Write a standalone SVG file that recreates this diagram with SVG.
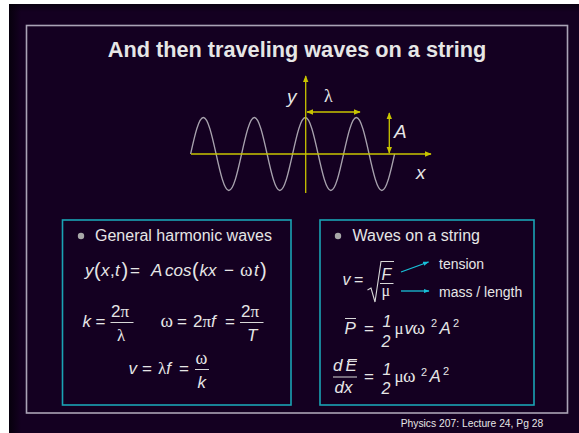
<svg xmlns="http://www.w3.org/2000/svg" width="579" height="433" viewBox="0 0 579 433">
<defs>
<linearGradient id="edgeL" x1="0" y1="0" x2="1" y2="0">
<stop offset="0" stop-color="#05000a" stop-opacity="0.9"/>
<stop offset="1" stop-color="#05000a" stop-opacity="0"/>
</linearGradient>
<linearGradient id="edgeT" x1="0" y1="0" x2="0" y2="1">
<stop offset="0" stop-color="#05000a" stop-opacity="0.7"/>
<stop offset="1" stop-color="#05000a" stop-opacity="0"/>
</linearGradient>
<marker id="ya" viewBox="0 0 10 10" refX="9" refY="5" markerWidth="7" markerHeight="7" markerUnits="userSpaceOnUse" orient="auto-start-reverse">
<path d="M0,1 L10,5 L0,9 Z" fill="#c8c400"/>
</marker>
<marker id="ca" viewBox="0 0 10 10" refX="9" refY="5" markerWidth="6" markerHeight="6" markerUnits="userSpaceOnUse" orient="auto">
<path d="M0,1.5 L10,5 L0,8.5 Z" fill="#18c0d8"/>
</marker>
</defs>
<style>
.t{font-family:"Liberation Sans",Arial,sans-serif;fill:#e6e6e6}
.i{font-style:italic}
.g{font-family:"Liberation Serif","Times New Roman",serif;font-style:normal}
.f{font-size:17px}
.box{fill:none;stroke:#1aa3b4;stroke-width:1.6}
.yl{stroke:#c8c400;stroke-width:1.3;fill:none}
.fl{stroke:#d8d8d8;stroke-width:1}
</style>
<rect x="0" y="0" width="579" height="433" fill="#ffffff"/>
<rect x="9" y="4" width="570" height="429" fill="#140021"/>
<rect x="9" y="4" width="12" height="429" fill="url(#edgeL)"/>
<rect x="9" y="4" width="570" height="8" fill="url(#edgeT)"/>
<rect x="26.5" y="25.5" width="541" height="387.5" fill="none" stroke="#aaa3b6" stroke-width="1.6"/>

<g id="title">
<text class="t" x="297" y="57" font-size="21.7" font-weight="bold" text-anchor="middle" fill="#f2f2f2">And then traveling waves on a string</text>
</g>

<g id="wave-plot">
<path d="M190.6,154 c4.158,-18.7 8.136,-36.5 12.75,-36.5 s8.592,17.8 12.75,36.5 s8.136,36.5 12.75,36.5 s8.592,-17.8 12.75,-36.5 s8.136,-36.5 12.75,-36.5 s8.592,17.8 12.75,36.5 s8.136,36.5 12.75,36.5 s8.592,-17.8 12.75,-36.5 s8.136,-36.5 12.75,-36.5 s8.592,17.8 12.75,36.5 s8.136,36.5 12.75,36.5 s8.592,-17.8 12.75,-36.5 s8.136,-36.5 12.75,-36.5 s8.592,17.8 12.75,36.5 s8.136,36.5 12.75,36.5 s8.592,-17.8 12.75,-36.5" fill="none" stroke="#a8a2ae" stroke-width="1.3"/>
<text class="t i" x="287" y="103" font-size="19">y</text>
<text class="t g" x="324" y="102" font-size="18">λ</text>
<text class="t i" x="394" y="138" font-size="19">A</text>
<text class="t i" x="416" y="179" font-size="19">x</text>
</g>

<g id="connectors">
<line class="yl" x1="191" y1="154" x2="431" y2="154" marker-end="url(#ya)"/>
<line class="yl" x1="305.7" y1="193" x2="305.7" y2="76" marker-end="url(#ya)"/>
<line class="yl" x1="307" y1="112" x2="360" y2="112" marker-start="url(#ya)" marker-end="url(#ya)"/>
<line class="yl" x1="389.3" y1="113" x2="389.3" y2="153" marker-start="url(#ya)" marker-end="url(#ya)"/>
<line x1="401" y1="272" x2="428.5" y2="262" stroke="#18c0d8" stroke-width="1.3" marker-end="url(#ca)"/>
<line x1="401" y1="291" x2="429" y2="291" stroke="#18c0d8" stroke-width="1.3" marker-end="url(#ca)"/>
</g>

<g id="harmonic-box">
<rect class="box" x="62.5" y="220" width="228.5" height="185"/>
<circle cx="81" cy="236" r="3.2" fill="#a8a8a8"/>
<text class="t" x="95" y="240.5" font-size="16">General harmonic waves</text>
<g class="f">
<text class="t i" x="85" y="276">y</text>
<text class="t" x="94" y="277" font-size="20">(</text>
<text class="t i" x="101" y="276">x</text>
<text class="t" x="110" y="276">,</text>
<text class="t i" x="115" y="276">t</text>
<text class="t" x="121.5" y="277" font-size="20">)</text>
<text class="t" x="130" y="276">=</text>
<text class="t i" x="151" y="276">A</text>
<text class="t i" x="165" y="276">cos</text>
<text class="t" x="192" y="277" font-size="20">(</text>
<text class="t i" x="199.5" y="276">kx</text>
<text class="t" x="224" y="276">−</text>
<text class="t g" x="240" y="276" font-size="19">ω</text>
<text class="t i" x="254" y="276">t</text>
<text class="t" x="260" y="277" font-size="20">)</text>
</g>
<g class="f">
<text class="t i" x="82.5" y="327">k</text>
<text class="t" x="95.5" y="327">=</text>
<text class="t" x="111" y="316.5">2<tspan class="g">π</tspan></text>
<line class="fl" x1="110.5" y1="322.5" x2="133.5" y2="322.5"/>
<text class="t g" x="117" y="340.5">λ</text>
<text class="t g" x="160.5" y="327" font-size="19">ω</text>
<text class="t" x="177" y="327">=</text>
<text class="t" x="193" y="327">2<tspan class="g">π</tspan><tspan class="i">f</tspan></text>
<text class="t" x="225" y="327">=</text>
<text class="t" x="241" y="316.5">2<tspan class="g">π</tspan></text>
<line class="fl" x1="240" y1="322.5" x2="263.5" y2="322.5"/>
<text class="t i" x="247" y="340.5">T</text>
<text class="t i" x="128.5" y="374">v</text>
<text class="t" x="142" y="374">=</text>
<text class="t g" x="158" y="374">λ<tspan class="t i">f</tspan></text>
<text class="t" x="179" y="374">=</text>
<text class="t g" x="195.5" y="364" font-size="18">ω</text>
<line class="fl" x1="195" y1="369.5" x2="209" y2="369.5"/>
<text class="t i" x="197.5" y="387.5">k</text>
</g>
</g>

<g id="string-box">
<rect class="box" x="320" y="220" width="214" height="185"/>
<circle cx="338" cy="236" r="3.2" fill="#a8a8a8"/>
<text class="t" x="352.5" y="240.5" font-size="16">Waves on a string</text>
<g class="f">
<text class="t i" x="342.5" y="285" font-size="16">v</text>
<text class="t" x="354" y="285" font-size="16">=</text>
<path d="M367.5,290 L371,288 L375,302 L381,261.5 L394,261.5" fill="none" stroke="#d8d8d8" stroke-width="1.1"/>
<text class="t i" x="381.5" y="280" font-size="16">F</text>
<line class="fl" x1="380" y1="283.5" x2="393.5" y2="283.5"/>
<text class="t g" x="381.5" y="296" font-size="16">μ</text>
</g>
<text class="t" x="439" y="268.5" font-size="14" fill="#a6a4ac">tension</text>
<text class="t" x="439" y="297" font-size="14" fill="#a6a4ac">mass / length</text>
<g class="f">
<text class="t i" x="344.5" y="333.5">P</text>
<line class="fl" x1="345" y1="318.5" x2="356" y2="318.5"/>
<text class="t" x="364" y="333.5">=</text>
<text class="t i" x="382.5" y="327" font-size="16">1</text>
<text class="t i" x="381.5" y="346.5" font-size="16">2</text>
<text class="t g" x="394.5" y="333.5">μ</text>
<text class="t i" x="404.5" y="333.5">v</text>
<text class="t g" x="412.5" y="333.5" font-size="19">ω</text>
<text class="t" x="431" y="327" font-size="11">2</text>
<text class="t i" x="439.5" y="333.5">A</text>
<text class="t" x="453" y="326.5" font-size="11">2</text>

<text class="t i" x="333" y="371">d</text>
<text class="t i" x="345.5" y="371">E</text>
<line class="fl" x1="347" y1="361.5" x2="357" y2="361.5"/>
<line class="fl" x1="333" y1="377" x2="357" y2="377"/>
<text class="t i" x="334.5" y="393">dx</text>
<text class="t" x="364" y="382">=</text>
<text class="t i" x="382.5" y="375" font-size="16">1</text>
<text class="t i" x="381.5" y="393.5" font-size="16">2</text>
<text class="t g" x="394.5" y="382">μ</text>
<text class="t g" x="403" y="382" font-size="19">ω</text>
<text class="t" x="421" y="375.5" font-size="11">2</text>
<text class="t i" x="429.5" y="382">A</text>
<text class="t" x="443" y="374.5" font-size="11">2</text>
</g>
</g>

<g id="footer">
<text class="t" x="400.7" y="427" font-size="10.3" fill="#d4d4d4">Physics 207: Lecture 24, Pg 28</text>
</g>
</svg>
